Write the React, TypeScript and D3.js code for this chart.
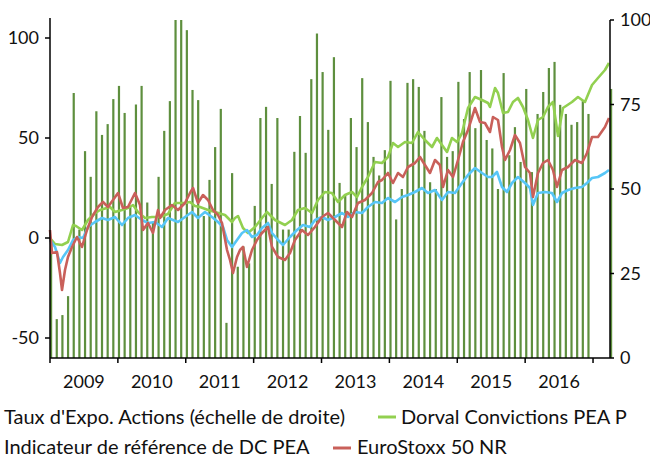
import * as d3 from "d3";

// monthly equity exposure, right axis (%), first bar = Jan 2009
const exposure = [
  35, 11.5, 12.7, 18.3, 78.4, 38, 61.2, 53.6, 73, 66, 69.2, 76.6,
  80.5, 72.5, 45, 75, 80.5, 46, 40, 53.6, 67.2, 76, 100, 100,
  97, 79.3, 76.3, 42, 52.7, 62.4, 73.7, 10.4, 54.7, 27, 33, 28,
  45, 71, 74.3, 51.5, 71, 38, 38, 61, 71.6, 60.7, 82.5, 96,
  84.6, 67.5, 89, 51.8, 48.5, 71, 62.4, 82.8, 69.8, 59.5, 54, 61.5,
  82, 41, 50, 81.4, 82.5, 80.2, 67.2, 52, 50, 77.2, 59.5, 61.2,
  81.7, 70.7, 84.6, 68, 85.2, 64.5, 62, 50, 84.3, 60, 68.3, 58,
  79.6, 55, 72.2, 78.7, 85.8, 87.6, 74.9, 72.2, 69, 69.8, 76, 72.2,
  0, 0, 0, 79.6,
];

// performance since start (%), left axis — [decimal year, value]
const dorval: [number, number][] = [
  [2009.0, 0], [2009.074, -3], [2009.177, -3.5], [2009.265, -2], [2009.339, 6.5], [2009.383, 6],
  [2009.471, 4], [2009.56, 9], [2009.648, 12], [2009.737, 14], [2009.884, 15.5], [2009.958, 13],
  [2010.061, 14], [2010.149, 15], [2010.223, 16.5], [2010.296, 13], [2010.4, 10], [2010.503, 10.5],
  [2010.621, 10.5], [2010.738, 12], [2010.841, 17.5], [2010.989, 17.5], [2011.062, 18], [2011.136, 16],
  [2011.21, 15.5], [2011.328, 14], [2011.431, 13], [2011.578, 11.5], [2011.681, 8], [2011.725, 10],
  [2011.77, 11], [2011.843, 5], [2011.917, 2.5], [2012.02, 5.5], [2012.123, 10], [2012.197, 13],
  [2012.315, 9], [2012.462, 6.5], [2012.565, 9], [2012.653, 14], [2012.756, 15], [2012.86, 12.5],
  [2012.948, 19], [2013.051, 23], [2013.154, 22.5], [2013.243, 18], [2013.346, 21.5], [2013.449, 23],
  [2013.523, 20.5], [2013.596, 25.5], [2013.685, 30.5], [2013.788, 38], [2013.891, 37.5], [2013.979, 40.5],
  [2014.053, 47.5], [2014.127, 45.5], [2014.23, 48], [2014.333, 47.5], [2014.421, 53], [2014.524, 49],
  [2014.628, 45.5], [2014.701, 50], [2014.775, 46.5], [2014.849, 43], [2014.922, 50], [2014.996, 48],
  [2015.07, 52.5], [2015.158, 65], [2015.261, 70.5], [2015.364, 69], [2015.453, 67.5], [2015.482, 65.5],
  [2015.556, 75], [2015.6, 72.5], [2015.674, 62.5], [2015.747, 63], [2015.821, 68], [2015.894, 70],
  [2015.968, 65.5], [2016.042, 59], [2016.115, 50], [2016.189, 59], [2016.263, 60.5], [2016.336, 65.5],
  [2016.41, 68], [2016.484, 51], [2016.557, 65], [2016.69, 68], [2016.778, 70.5], [2016.881, 68],
  [2016.985, 76.5], [2017.073, 80], [2017.176, 84], [2017.235, 87.5],
];

const euroStoxx: [number, number][] = [
  [2009.0, 4], [2009.029, -7.5], [2009.103, -7], [2009.147, -17.5], [2009.177, -26], [2009.221, -16],
  [2009.265, -9.5], [2009.324, -4.5], [2009.398, 0.5], [2009.471, -4.5], [2009.545, 4], [2009.619, 10.5],
  [2009.707, 15.5], [2009.781, 18], [2009.854, 15.5], [2009.928, 19], [2010.002, 22.5], [2010.075, 15],
  [2010.149, 15.5], [2010.252, 22.5], [2010.326, 16.5], [2010.37, 4], [2010.444, 7.5], [2010.517, 2.5],
  [2010.591, 14], [2010.621, 10], [2010.694, 14], [2010.797, 16.5], [2010.886, 14], [2010.989, 17.5],
  [2011.062, 22.5], [2011.107, 25], [2011.18, 17.5], [2011.254, 21.5], [2011.328, 19], [2011.401, 14],
  [2011.475, 11.5], [2011.534, 7.5], [2011.608, -6], [2011.652, -11], [2011.696, -17.5], [2011.755, -9.5],
  [2011.799, -6], [2011.843, -4.5], [2011.902, -14.5], [2011.976, -6], [2012.049, -1], [2012.123, 2.5],
  [2012.212, 5.5], [2012.271, -4.5], [2012.359, -9.5], [2012.462, -11], [2012.536, -7.5], [2012.609, -1],
  [2012.712, 4], [2012.801, 1.5], [2012.904, 5.5], [2013.007, 10.5], [2013.095, 12.5], [2013.199, 9],
  [2013.302, 5.5], [2013.375, 13], [2013.449, 10.5], [2013.537, 17.5], [2013.64, 19], [2013.744, 22.5],
  [2013.832, 28], [2013.891, 29], [2013.979, 32.5], [2014.053, 27.5], [2014.127, 32.5], [2014.2, 30.5],
  [2014.274, 35.5], [2014.377, 37.5], [2014.451, 40.5], [2014.524, 36.5], [2014.598, 32.5], [2014.672, 39],
  [2014.745, 36.5], [2014.79, 25.5], [2014.863, 34], [2014.937, 30.5], [2015.011, 39], [2015.084, 48],
  [2015.158, 54], [2015.261, 65], [2015.335, 58], [2015.408, 57.5], [2015.482, 53], [2015.526, 60.5],
  [2015.6, 59], [2015.659, 45.5], [2015.703, 39], [2015.777, 44], [2015.85, 51.5], [2015.924, 47.5],
  [2015.998, 35.5], [2016.071, 32.5], [2016.115, 20.5], [2016.189, 32.5], [2016.263, 37.5], [2016.336, 39],
  [2016.41, 34], [2016.469, 25.5], [2016.543, 34], [2016.631, 35.5], [2016.734, 39], [2016.837, 37.5],
  [2016.911, 42.5], [2016.985, 50.5], [2017.073, 50.5], [2017.176, 55.5], [2017.235, 60],
];

const indicateur: [number, number][] = [
  [2009.0, -1], [2009.074, -4.5], [2009.147, -12.5], [2009.192, -9.5], [2009.265, -6], [2009.339, -1],
  [2009.412, 0.5], [2009.486, 0], [2009.56, 5.5], [2009.663, 8], [2009.766, 10], [2009.854, 9],
  [2009.958, 10.5], [2010.061, 6.5], [2010.149, 10], [2010.252, 11.5], [2010.355, 9], [2010.444, 7.5],
  [2010.547, 8], [2010.65, 5.5], [2010.738, 10], [2010.886, 8], [2010.989, 10.5], [2011.092, 13],
  [2011.18, 10], [2011.283, 13], [2011.387, 10.5], [2011.475, 8], [2011.549, 5.5], [2011.608, -1],
  [2011.681, -4.5], [2011.755, -1], [2011.829, 2.5], [2011.902, 4], [2011.976, 0.5], [2012.049, 1.5],
  [2012.123, 5], [2012.212, 7.5], [2012.271, 2.5], [2012.359, -1], [2012.433, -3.5], [2012.536, 0.5],
  [2012.639, 4], [2012.727, 6.5], [2012.83, 5.5], [2012.904, 9], [2013.007, 10.5], [2013.095, 9],
  [2013.199, 10.5], [2013.302, 12.5], [2013.39, 10.5], [2013.493, 13], [2013.596, 12.5], [2013.685, 15.5],
  [2013.788, 18], [2013.891, 17.5], [2013.979, 20], [2014.083, 18], [2014.186, 20.5], [2014.274, 21.5],
  [2014.377, 23], [2014.48, 25], [2014.569, 22.5], [2014.672, 24], [2014.775, 19], [2014.863, 23],
  [2014.966, 22.5], [2015.07, 27.5], [2015.158, 31.5], [2015.261, 35], [2015.364, 32.5], [2015.453, 30.5],
  [2015.511, 30.5], [2015.585, 33], [2015.659, 25.5], [2015.733, 23], [2015.806, 27.5], [2015.894, 30.5],
  [2015.998, 27.5], [2016.071, 25], [2016.115, 16.5], [2016.189, 22.5], [2016.292, 23], [2016.395, 22.5],
  [2016.469, 18], [2016.543, 22.5], [2016.631, 24], [2016.734, 25], [2016.837, 25.5], [2016.911, 27.5],
  [2016.985, 30], [2017.073, 30.5], [2017.176, 32.5], [2017.235, 34],
];

const years = [2009, 2010, 2011, 2012, 2013, 2014, 2015, 2016];
const leftTicks = [-50, 0, 50, 100];
const rightTicks = [0, 25, 50, 75, 100];

const FONT = "Lato, 'Open Sans', sans-serif";
const BAR = "#5e8f3e";
const GREEN = "#92d050";
const RED = "#c9605a";
const BLUE = "#57c6f7";

export default function App() {
  const width = 650;
  const height = 459;
  const plot = { left: 50, right: 610, top: 18, bottom: 358 };

  const x = d3.scaleLinear().domain([2009, 2017.25]).range([plot.left, plot.right]);
  const yLeft = d3.scaleLinear().domain([-60, 110]).range([plot.bottom, plot.top]);
  const yRight = d3.scaleLinear().domain([0, 100]).range([plot.bottom, 20]);

  const line = d3
    .line<[number, number]>()
    .x((d) => x(d[0]))
    .y((d) => yLeft(d[1]));

  const series = [
    { data: dorval, color: GREEN },
    { data: indicateur, color: BLUE },
    { data: euroStoxx, color: RED },
  ];

  return (
    <svg
      width={width}
      height={height}
      style={{ position: "absolute", left: 0, top: 0, background: "#fff" }}
      fontFamily={FONT}
    >
      {/* exposure bars (right scale) */}
      {exposure.map((v, i) =>
        v > 0 ? (
          <rect
            key={i}
            x={x(2009 + i / 12)}
            y={yRight(v)}
            width={2.2}
            height={yRight(0) - yRight(v)}
            fill={BAR}
          />
        ) : null
      )}

      {/* performance lines (left scale) */}
      {series.map((s, i) => (
        <path
          key={i}
          d={line(s.data) ?? ""}
          fill="none"
          stroke={s.color}
          strokeWidth={2.6}
          strokeLinejoin="round"
        />
      ))}

      {/* left axis */}
      <line x1={plot.left} x2={plot.left} y1={plot.top} y2={plot.bottom} stroke="#000" strokeWidth={1.5} />
      {leftTicks.map((t) => (
        <g key={t}>
          <line x1={plot.left - 5} x2={plot.left} y1={yLeft(t)} y2={yLeft(t)} stroke="#000" strokeWidth={1.5} />
          <text x={39} y={yLeft(t) + 6} textAnchor="end" fontSize={18} fill="#111">
            {t}
          </text>
        </g>
      ))}

      {/* right axis */}
      <line x1={plot.right} x2={plot.right} y1={20} y2={plot.bottom} stroke="#000" strokeWidth={1.5} />
      {rightTicks.map((t) => (
        <g key={t}>
          <line x1={plot.right} x2={plot.right + 4} y1={yRight(t)} y2={yRight(t)} stroke="#000" strokeWidth={1.5} />
          <text x={620} y={yRight(t) + 6} textAnchor="start" fontSize={18} fill="#111">
            {t}
          </text>
        </g>
      ))}

      {/* bottom axis */}
      <line x1={plot.left} x2={plot.right} y1={plot.bottom} y2={plot.bottom} stroke="#000" strokeWidth={1.5} />
      {[...years, 2017].map((yr) => (
        <line key={yr} x1={x(yr)} x2={x(yr)} y1={plot.bottom} y2={plot.bottom + 5} stroke="#000" strokeWidth={1.5} />
      ))}
      {years.map((yr) => (
        <text key={yr} x={x(yr + 0.5)} y={388} textAnchor="middle" fontSize={18} fill="#111">
          {yr}
        </text>
      ))}

      {/* legend */}
      <g fontSize={20} fill="#111">
        <text x={4} y={424}>Taux d'Expo. Actions (échelle de droite)</text>
        <line x1={378} x2={396} y1={417} y2={417} stroke={GREEN} strokeWidth={3} />
        <text x={401} y={424}>Dorval Convictions PEA P</text>
        <text x={4} y={454}>Indicateur de référence de DC PEA</text>
        <line x1={333} x2={351} y1={448} y2={448} stroke={RED} strokeWidth={3} />
        <text x={357} y={454}>EuroStoxx 50 NR</text>
      </g>
    </svg>
  );
}
